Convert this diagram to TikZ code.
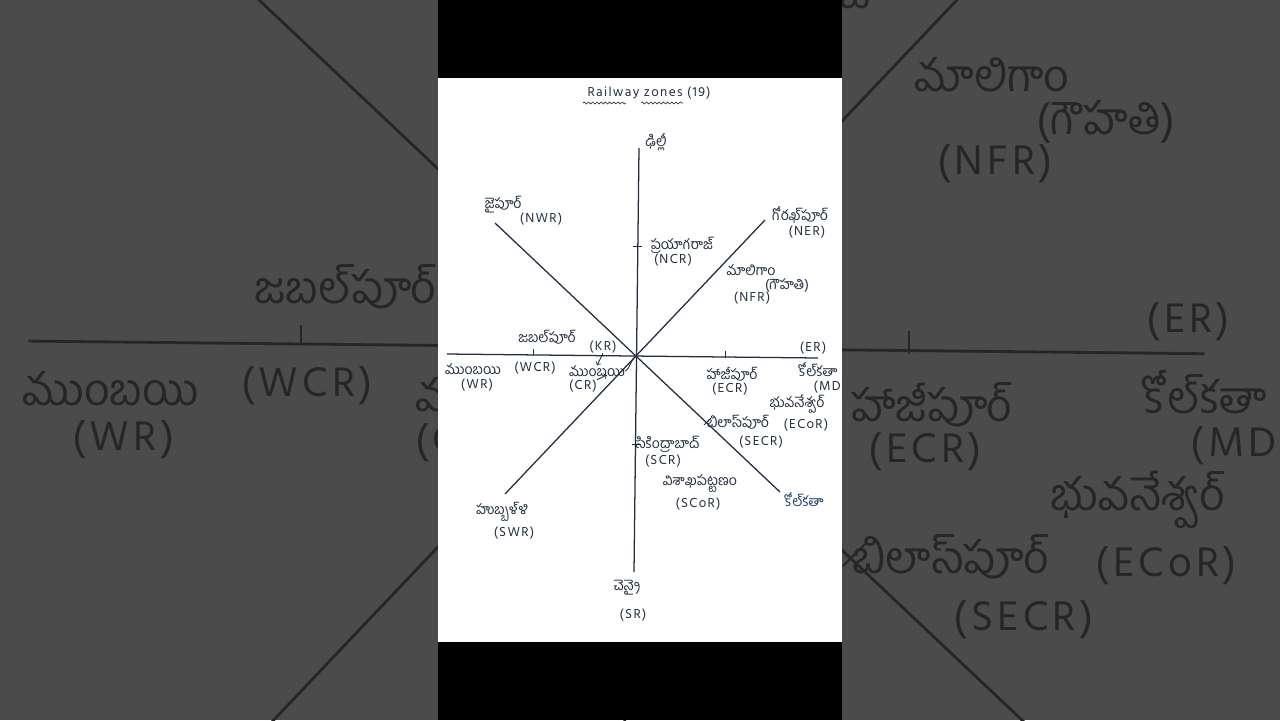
\documentclass[tikz,border=0pt]{standalone}
\usepackage{fontspec}
\newfontfamily\tel[Script=Telugu]{Hind Guntur}
\newfontfamily\zonefont[LetterSpace=10]{Hind Guntur}
\usetikzlibrary{decorations.pathmorphing}

\definecolor{ink}{RGB}{35,45,62}
\definecolor{blueink}{RGB}{30,62,112}
\definecolor{blurgray}{RGB}{75,75,75}
\colorlet{zink}{ink}
\colorlet{zblue}{blueink}
\def\zlw{0.9pt}

\tikzset{
    zline/.style={draw=zink, line width=\zlw},
    ztick/.style={draw=zink, line width=0.7*\zlw},
    town/.style={text=zink, font=\tel\fontsize{10}{12}\selectfont, inner sep=0pt},
    zone/.style={text=zink, font=\zonefont\fontsize{9.5}{11}\selectfont, inner sep=0pt},
    wavy/.style={draw=zink, line width=0.5*\zlw, decorate,
        decoration={snake, amplitude=0.7pt, segment length=3pt}}
}

% the whole drawing, in pixel coordinates
\newcommand{\railzones}{%
    % Title
    \node[zone] (title) at (649,93) {Railway zones (19)};
    \draw[wavy] (583,103) -- (626,103);
    \draw[wavy] (641,103) -- (683,103);

    % Lines
    \coordinate (c) at (637,356);
    \coordinate (n) at (639,148);
    \coordinate (s) at (634,572);
    \coordinate (w) at (447,354);
    \coordinate (e) at (818,358);
    \coordinate (nw) at (495,223);
    \coordinate (se) at (780,492);
    \coordinate (ne) at (765,220);
    \coordinate (sw) at (505,494);

    \draw[zline] (n) -- (s);
    \draw[zline] (w) -- (e);
    \draw[zline] (nw) -- (se);
    \draw[zline] (ne) -- (sw);

    % Ticks
    \draw[ztick] (633,246) -- (642,246);
    \draw[ztick] (632,444) -- (641,444);
    \draw[ztick] (533,349) -- (533,355);
    \draw[ztick] (725,351) -- (725,358);
    \draw[ztick] (704,425) -- (711,418);

    % North
    \node[town] (delhi) at (656,142) {ఢిల్లీ};
    \node[town] (prayag) at (682,245) {ప్రయాగరాజ్};
    \node[zone] (ncr) at (673,260) {(NCR)};

    % North west
    \node[town] (jaipur) at (503,205) {జైపూర్};
    \node[zone] (nwr) at (541,219) {(NWR)};

    % North east
    \node[town] (gorakhpur) at (800,215) {గోరఖ్‌పూర్};
    \node[zone] (ner) at (807,232) {(NER)};
    \node[town] (maligaon) at (751,270) {మాలిగాం};
    \node[town] (guwahati) at (787,285) {(గౌహతి)};
    \node[zone] (nfr) at (752,298) {(NFR)};

    % West
    \node[town] (jabalpur) at (547,337) {జబల్‌పూర్};
    \node[zone] (wcr) at (535,368) {(WCR)};
    \node[town] (mumbaiw) at (473,369) {ముంబయి};
    \node[zone] (wr) at (477,385) {(WR)};
    \node[zone] (kr) at (603,347) {(KR)};
    \node[town] (mumbaic) at (597,371) {ముంబయి};
    \node[zone] (cr) at (583,386) {(CR)};
    \coordinate (crtip) at (607,375);

    \draw[zline, line width=0.7*\zlw, ->] (kr.south) -- (mumbaic.north);
    \draw[zline, line width=0.7*\zlw, ->] (cr.north east) -- (crtip);
    \draw[zline, line width=0.7*\zlw] (mumbaic.east) to[out=30, in=200] (c);

    % East
    \node[zone] (er) at (813,348) {(ER)};
    \node[town] (hajipur) at (732,374) {హాజీపూర్};
    \node[zone] (ecr) at (730,389) {(ECR)};
    \node[town] (kolkata) at (818,370) {కోల్‌కతా};
    \node[zone] (md) at (830,387) {(MD)};

    % South east
    \node[town] (bhubaneswar) at (797,404) {భువనేశ్వర్};
    \node[zone] (ecor) at (806,425) {(ECoR)};
    \node[town] (bilaspur) at (738,422) {బిలాస్‌పూర్};
    \node[zone] (secr) at (761,442) {(SECR)};
    \node[town, text=zblue] (kolkatase) at (804,500) {కోల్‌కతా};

    % South
    \node[town] (secunderabad) at (668,444) {సికింద్రాబాద్};
    \node[zone] (scr) at (663,461) {(SCR)};
    \node[town] (visakha) at (700,484) {విశాఖపట్టణం};
    \node[zone] (scor) at (698,504) {(SCoR)};
    \node[town] (chennai) at (627,588) {చెన్నై};
    \node[zone] (sr) at (633,615) {(SR)};

    % South west
    \node[town] (hubballi) at (502,512) {హుబ్బళ్ళి};
    \node[zone] (swr) at (514,533) {(SWR)};
}

\begin{document}
\begin{tikzpicture}[x=0.25mm, y=-0.25mm]
    \useasboundingbox (0,0) rectangle (1280,720);
    \clip (0,0) rectangle (1280,720);

    % Blurred background
    \fill[blurgray] (0,0) rectangle (1280,720);
    \begin{scope}[scale around={3.17:(640,360)}, transform shape, name prefix=bg-]
        \colorlet{zink}{black!85}
        \colorlet{zblue}{black!80}
        \def\zlw{2pt}
        \railzones
    \end{scope}

    % Video frame
    \fill[black] (438,0) rectangle (842,78);
    \fill[black] (438,642) rectangle (842,720);
    \fill[white] (438,78) rectangle (842,642);

    \begin{scope}
        \clip (438,78) rectangle (842,642);
        \railzones
    \end{scope}
\end{tikzpicture}
\end{document}
